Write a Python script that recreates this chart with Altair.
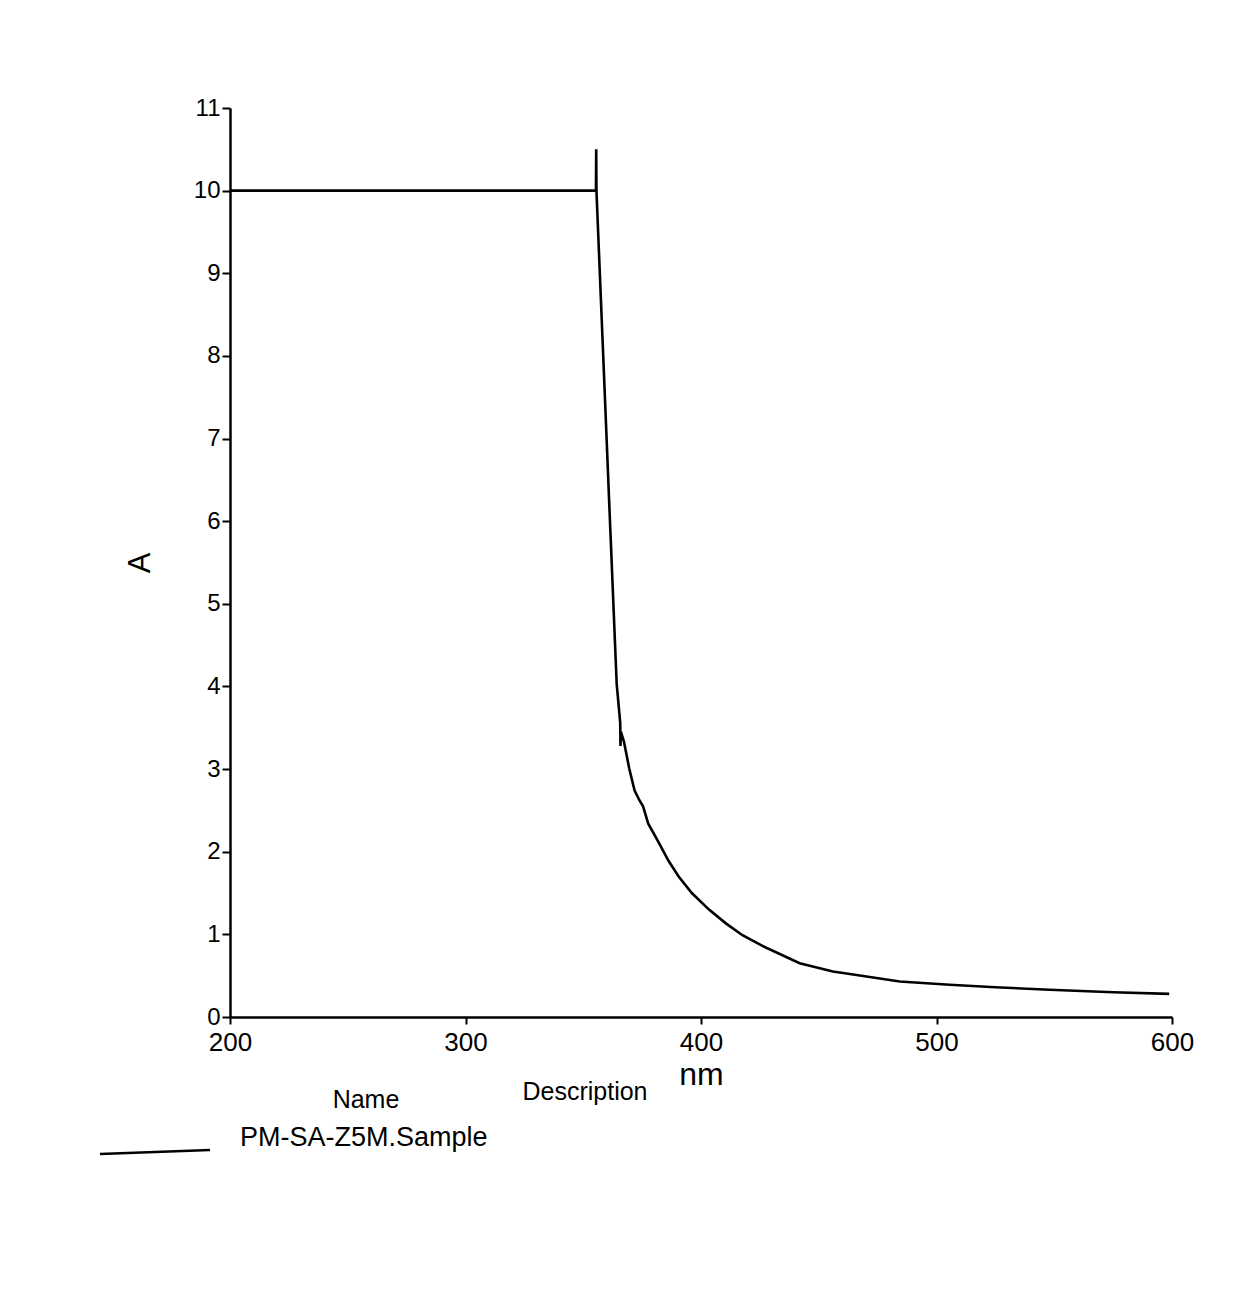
import altair as alt
import pandas as pd

# Wavelength (nm) and absorbance (A)
nm_vals = [200, 300, 355.4, 355.5, 355.6, 359.3, 361.1, 364.2, 365.7, 365.8, 366.0,
           367.3, 369.5, 371.8, 373.9, 375.4, 377.6, 381.9, 386.2, 390.5, 396.1,
           403.4, 410.7, 417.6, 426.1, 441.9, 456.0, 463.2, 484.4, 505.6, 525.0,
           548.0, 575.0, 598.8]
a_vals = [10.0, 10.0, 10.0, 10.5, 10.0, 7.43, 6.17, 4.03, 3.56, 3.28, 3.45,
          3.33, 3.01, 2.74, 2.62, 2.55, 2.34, 2.12, 1.89, 1.70, 1.50,
          1.30, 1.13, 0.99, 0.86, 0.65, 0.55, 0.52, 0.43, 0.39, 0.36,
          0.33, 0.30, 0.28]

x_ticks = [200, 300, 400, 500, 600]
y_ticks = list(range(0, 12))

legend_header = ["Name", "Description"]
series_name = "PM-SA-Z5M.Sample"

df = pd.DataFrame({"nm": nm_vals, "A": a_vals})

FONT = "Liberation Sans"

line = alt.Chart(df).mark_line(color="black", strokeWidth=2.6, clip=False).encode(
    x=alt.X("nm:Q",
            scale=alt.Scale(domain=[200, 600], nice=False, zero=False),
            axis=alt.Axis(values=x_ticks, title="nm", grid=False, tickSize=7,
                          labelPadding=5, labelFontSize=26, titleFontSize=32,
                          titleFontWeight="normal", titlePadding=4,
                          labelFlush=False)),
    y=alt.Y("A:Q",
            scale=alt.Scale(domain=[0, 11], nice=False),
            axis=alt.Axis(values=y_ticks, title="A", grid=False, tickSize=8,
                          labelPadding=2, labelFontSize=24, titleFontSize=31,
                          titleFontWeight="normal", titlePadding=37,
                          labelFlush=False)),
    order="nm:Q",
)

hdr_name = alt.Chart(pd.DataFrame({"t": [legend_header[0]]})).mark_text(
    font=FONT, fontSize=25, align="center", baseline="middle", color="black"
).encode(text="t:N", x=alt.value(136), y=alt.value(992))

hdr_desc = alt.Chart(pd.DataFrame({"t": [legend_header[1]]})).mark_text(
    font=FONT, fontSize=25, align="center", baseline="middle", color="black"
).encode(text="t:N", x=alt.value(355), y=alt.value(984))

entry = alt.Chart(pd.DataFrame({"t": [series_name]})).mark_text(
    font=FONT, fontSize=27, align="left", baseline="middle", color="black"
).encode(text="t:N", x=alt.value(10), y=alt.value(1030))

legend_line = alt.Chart(pd.DataFrame({"t": [series_name]})).mark_rule(
    color="black", strokeWidth=2.6
).encode(x=alt.value(-130), x2=alt.value(-20), y=alt.value(1046), y2=alt.value(1042))

chart = alt.layer(line, hdr_name, hdr_desc, entry, legend_line).properties(
    width=942,
    height=909,
    autosize=alt.AutoSizeParams(type="none"),
    padding={"left": 222, "top": 100, "right": 60, "bottom": 200},
    background="white",
).configure_view(stroke=None).configure_axis(
    domainColor="black", domainWidth=2.5, tickColor="black", tickWidth=2,
    labelColor="black", titleColor="black", labelFont=FONT, titleFont=FONT,
).configure_text(font=FONT)

chart.save("out.html", embed_options={"renderer": "svg", "actions": False})
